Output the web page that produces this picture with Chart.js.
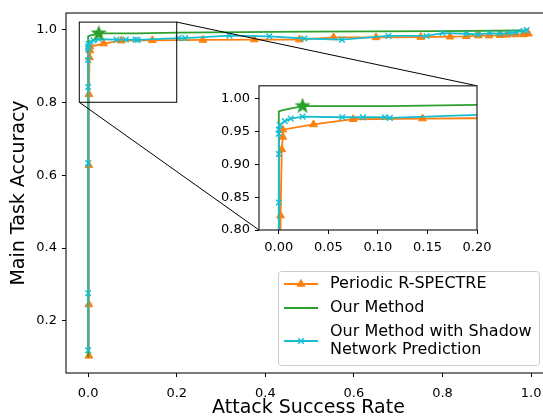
<!DOCTYPE html>
<html>
<head>
<meta charset="utf-8">
<script src="https://cdn.jsdelivr.net/npm/chart.js@4.4.0/dist/chart.umd.min.js"></script>
<style>
  html, body { margin: 0; padding: 0; background: #fff; overflow: hidden; }
  #wrap { position: relative; width: 543px; height: 418px; overflow: hidden; }
  #main { position: absolute; left: 0; top: 0; }
  #inset { position: absolute; left: 215px; top: 73px; }
</style>
</head>
<body>
<div id="wrap">
  <canvas id="main" width="560" height="418"></canvas>
  <canvas id="inset" width="290" height="180"></canvas>
</div>
<script>
// Periodic R-SPECTRE
const rspectreX = [0.0017, 0.0017, 0.0017, 0.0017, 0.003, 0.004, 0.004, 0.035, 0.075, 0.145, 0.259, 0.375, 0.477, 0.554, 0.650, 0.751, 0.817, 0.854, 0.881, 0.905, 0.930, 0.945, 0.965, 0.983, 0.994];
const rspectreY = [0.104, 0.245, 0.627, 0.822, 0.923, 0.942, 0.953, 0.961, 0.969, 0.970, 0.971, 0.972, 0.972, 0.978, 0.978, 0.979, 0.980, 0.981, 0.983, 0.983, 0.984, 0.985, 0.986, 0.986, 0.988];
// Our Method
const ourX = [0, 0, 0, 0.004, 0.024, 0.11, 0.2, 0.5, 0.8, 0.98];
const ourY = [0.10, 0.95, 0.981, 0.983, 0.989, 0.989, 0.991, 0.994, 0.995, 0.997];
// Our Method with Shadow Network Prediction
const shadowX = [0, 0, 0, 0, 0, 0, 0, 0.001, 0.006, 0.012, 0.024, 0.064, 0.085, 0.107, 0.112, 0.204, 0.219, 0.319, 0.409, 0.488, 0.573, 0.678, 0.764, 0.80, 0.854, 0.88, 0.907, 0.93, 0.95, 0.965, 0.983, 0.99];
const shadowY = [0.119, 0.276, 0.633, 0.842, 0.916, 0.947, 0.953, 0.960, 0.966, 0.970, 0.973, 0.972, 0.972, 0.972, 0.971, 0.976, 0.976, 0.983, 0.981, 0.975, 0.972, 0.982, 0.982, 0.990, 0.988, 0.986, 0.990, 0.988, 0.990, 0.992, 0.996, 0.998];
// selected operating point (star)
const bestX = [0.024];
const bestY = [0.989];

const mainXTicks = [0, 0.2, 0.4, 0.6, 0.8, 1.0];
const mainYTicks = [0.2, 0.4, 0.6, 0.8, 1.0];
const insetXTicks = [0, 0.05, 0.10, 0.15, 0.20];
const insetYTicks = [0.80, 0.85, 0.90, 0.95, 1.00];

// zoom window shown in the inset
const zoomX = [-0.02, 0.20];
const zoomY = [0.80, 1.02];

const labels = ['Periodic R-SPECTRE', 'Our Method', ['Our Method with Shadow', 'Network Prediction']];

const ORANGE = '#ff7f0e', GREEN = '#2ca02c', CYAN = '#17becf';
const FONT = "'DejaVu Sans', sans-serif";

function pts(xs, ys) {
    return xs.map((x, i) => ({ x: x, y: ys[i] }));
}

function starImage(size, color) {
    const c = document.createElement('canvas');
    c.width = size; c.height = size;
    const g = c.getContext('2d');
    const r = size / 2, ri = r * 0.42;
    g.beginPath();
    for (let i = 0; i < 10; i++) {
        const a = -Math.PI / 2 + i * Math.PI / 5;
        const rr = i % 2 ? ri : r;
        g.lineTo(r + rr * Math.cos(a), r + rr * Math.sin(a));
    }
    g.closePath();
    g.fillStyle = color;
    g.fill();
    return c;
}
const star = starImage(17, GREEN);

function makeDatasets(clip) {
    return [
        {
            label: labels[0], data: pts(rspectreX, rspectreY), showLine: true, order: 3,
            borderColor: ORANGE, borderWidth: 1.8, pointStyle: 'triangle', pointRadius: 4.5,
            pointBackgroundColor: ORANGE, pointBorderColor: ORANGE, pointBorderWidth: 1, clip: clip
        },
        {
            label: labels[1], data: pts(ourX, ourY), showLine: true, order: 2,
            borderColor: GREEN, borderWidth: 1.8, pointRadius: 0, clip: clip
        },
        {
            label: 'shadow', data: pts(shadowX, shadowY), showLine: true, order: 1,
            borderColor: CYAN, borderWidth: 1.8, pointStyle: 'crossRot', pointRadius: 4,
            pointBorderColor: CYAN, pointBorderWidth: 1.4, clip: clip
        },
        {
            label: 'best', data: pts(bestX, bestY), showLine: false, order: 0,
            pointStyle: star, clip: clip
        }
    ];
}

function axis(min, max, tickList, digits, fixSize, fontSize, pad, title) {
    return {
        type: 'linear', min: min, max: max,
        afterBuildTicks: s => { s.ticks = tickList.map(v => ({ value: v })); },
        afterFit: s => { if (s.isHorizontal()) s.height = fixSize; else s.width = fixSize; },
        ticks: {
            font: { family: FONT, size: fontSize }, color: '#000', padding: pad,
            maxRotation: 0, autoSkip: false,
            callback: v => Number(v).toFixed(digits)
        },
        grid: { display: true, drawOnChartArea: false, drawTicks: true, tickLength: 4, tickColor: '#000', tickWidth: 1 },
        border: { display: false },
        title: title
    };
}

const framePlugin = {
    id: 'frame',
    beforeDraw(chart) {
        if (chart.canvas.id !== 'inset') return;
        const a = chart.chartArea, c = chart.ctx;
        c.save();
        c.fillStyle = '#fff';
        c.fillRect(a.left, a.top, a.right - a.left, a.bottom - a.top);
        c.restore();
    },
    afterDatasetsDraw(chart) {
        const a = chart.chartArea, c = chart.ctx;
        c.save();
        c.strokeStyle = '#222';
        c.lineWidth = 1.2;
        c.strokeRect(a.left, a.top, a.right - a.left, a.bottom - a.top);
        c.restore();
    }
};

// inset first, so the main chart can connect to its frame
const insetChart = new Chart(document.getElementById('inset').getContext('2d'), {
    type: 'scatter',
    data: { datasets: makeDatasets(0) },
    options: {
        responsive: false, animation: false, events: [],
        layout: { padding: { top: 12, right: 28, left: 0, bottom: 0 } },
        plugins: { legend: { display: false }, tooltip: { enabled: false } },
        scales: {
            x: axis(zoomX[0], zoomX[1], insetXTicks, 2, 23, 13, 6, { display: false }),
            y: axis(zoomY[0], zoomY[1], insetYTicks, 2, 44, 13, 5, { display: false })
        }
    },
    plugins: [framePlugin]
});

const zoomPlugin = {
    id: 'zoomBox',
    afterDatasetsDraw(chart) {
        const xs = chart.scales.x, ys = chart.scales.y, c = chart.ctx;
        const x0 = xs.getPixelForValue(zoomX[0]), x1 = xs.getPixelForValue(zoomX[1]);
        const y0 = ys.getPixelForValue(zoomY[0]), y1 = ys.getPixelForValue(zoomY[1]);
        const ia = insetChart.chartArea;
        const ox = insetChart.canvas.offsetLeft, oy = insetChart.canvas.offsetTop;
        c.save();
        c.strokeStyle = '#000';
        c.lineWidth = 1;
        c.strokeRect(x0, y1, x1 - x0, y0 - y1);
        c.beginPath();
        c.moveTo(x1, y1); c.lineTo(ia.right + ox, ia.top + oy);
        c.moveTo(x0, y0); c.lineTo(ia.left + ox, ia.bottom + oy);
        c.stroke();
        c.restore();
    }
};

const legendPlugin = {
    id: 'boxLegend',
    afterDraw(chart) {
        const c = chart.ctx;
        const bx = 278.5, by = 271.5, bw = 261, bh = 94;
        c.save();
        c.fillStyle = 'rgba(255,255,255,0.8)';
        c.strokeStyle = '#cccccc';
        c.lineWidth = 1;
        c.beginPath();
        c.roundRect(bx, by, bw, bh, 3);
        c.fill();
        c.stroke();

        const rows = [
            { y: 284, color: ORANGE, style: 'triangle', radius: 4.5, text: labels[0] },
            { y: 308, color: GREEN, style: false, text: labels[1] },
            { y: 341, color: CYAN, style: 'crossRot', radius: 4, text: labels[2] }
        ];
        c.font = '16px ' + FONT;
        c.textBaseline = 'middle';
        c.textAlign = 'left';
        rows.forEach(r => {
            c.strokeStyle = r.color;
            c.fillStyle = r.color;
            c.lineWidth = 1.8;
            c.beginPath();
            c.moveTo(284, r.y); c.lineTo(318, r.y);
            c.stroke();
            if (r.style) {
                c.lineWidth = r.style === 'crossRot' ? 1.4 : 1;
                Chart.helpers.drawPoint(c, { pointStyle: r.style, rotation: 0, radius: r.radius, borderWidth: c.lineWidth }, 301, r.y);
            }
            c.fillStyle = '#000';
            const lines = Array.isArray(r.text) ? r.text : [r.text];
            lines.forEach((t, i) => {
                c.fillText(t, 330, r.y + (i - (lines.length - 1) / 2) * 17.5);
            });
        });
        c.restore();
    }
};

const mainChart = new Chart(document.getElementById('main').getContext('2d'), {
    type: 'scatter',
    data: { datasets: makeDatasets(undefined) },
    options: {
        responsive: false, animation: false, events: [],
        layout: { padding: { top: 13, right: 9, left: 0, bottom: 0 } },
        plugins: { legend: { display: false }, tooltip: { enabled: false } },
        scales: {
            x: axis(-0.05, 1.045, mainXTicks, 1, 45, 13, 9, {
                display: true, text: 'Attack Success Rate', color: '#000',
                font: { family: FONT, size: 19, lineHeight: 1 }, padding: { top: 0, bottom: 0 }
            }),
            y: axis(0.057, 1.045, mainYTicks, 1, 66, 13, 5, {
                display: true, text: 'Main Task Accuracy', color: '#000',
                font: { family: FONT, size: 19, lineHeight: 1 }, padding: { top: 10, bottom: 0 }
            })
        }
    },
    plugins: [framePlugin, zoomPlugin, legendPlugin]
});
</script>
</body>
</html>
